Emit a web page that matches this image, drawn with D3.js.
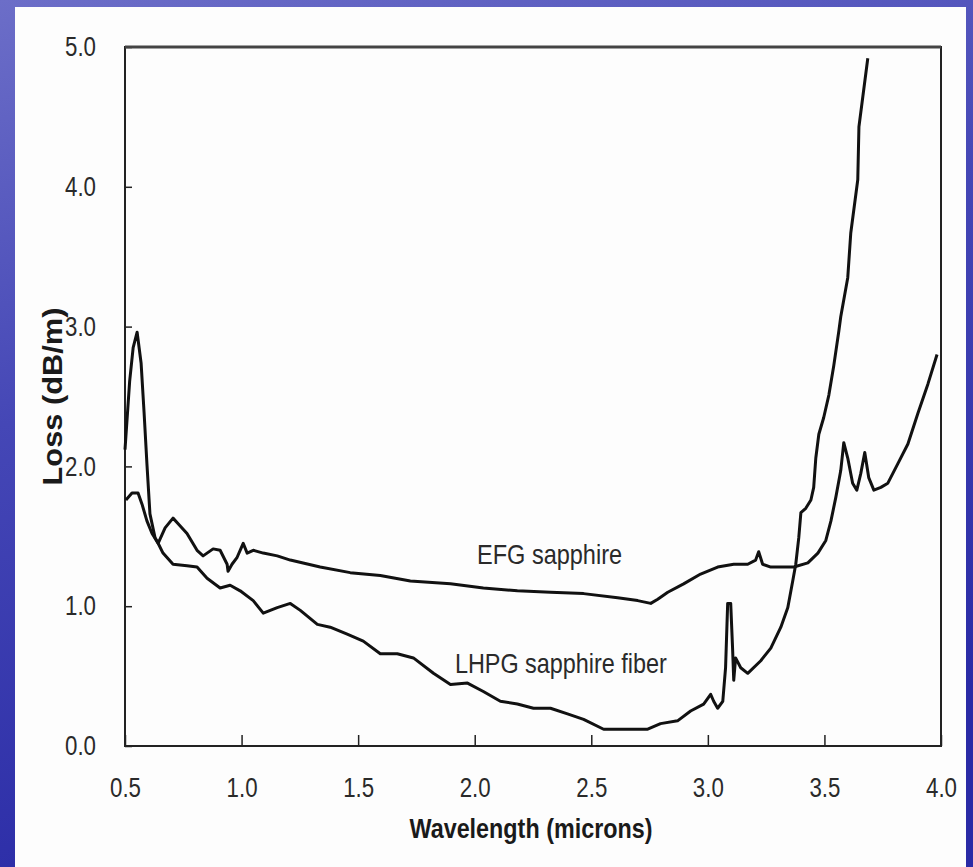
<!DOCTYPE html>
<html>
<head>
<meta charset="utf-8">
<script src="https://cdn.jsdelivr.net/npm/d3@7"></script>
<style>
  html, body { margin: 0; padding: 0; }
  body { width: 973px; height: 867px; overflow: hidden; }
</style>
</head>
<body>
<div id="chart"></div>
<script>
const width = 973;
const height = 867;
const margin = { top: 47, right: 32, bottom: 121, left: 125 };

// EFG sapphire (upper curve at mid wavelengths)
const efgWavelength = [0.50, 0.52, 0.535, 0.552, 0.569, 0.582, 0.594, 0.607, 0.629, 0.642, 0.672, 0.706, 0.728, 0.766, 0.809, 0.835, 0.878, 0.908, 0.938, 0.942, 0.959, 0.981, 1.007, 1.024, 1.05, 1.093, 1.153, 1.209, 1.337, 1.466, 1.595, 1.724, 1.896, 2.037, 2.183, 2.325, 2.467, 2.613, 2.699, 2.755, 2.785, 2.828, 2.896, 2.969, 3.042, 3.111, 3.171, 3.205, 3.218, 3.235, 3.27, 3.369, 3.429, 3.472, 3.506, 3.528, 3.549, 3.570, 3.583, 3.600, 3.621, 3.639, 3.656, 3.673, 3.690, 3.712, 3.742, 3.772, 3.815, 3.858, 3.901, 3.944, 3.983];
const efgLoss = [2.12, 2.61, 2.85, 2.96, 2.74, 2.38, 2.02, 1.66, 1.49, 1.45, 1.56, 1.63, 1.59, 1.52, 1.40, 1.36, 1.41, 1.40, 1.30, 1.25, 1.30, 1.35, 1.45, 1.38, 1.40, 1.38, 1.36, 1.33, 1.28, 1.24, 1.22, 1.18, 1.16, 1.13, 1.11, 1.10, 1.09, 1.06, 1.04, 1.02, 1.05, 1.10, 1.16, 1.23, 1.28, 1.30, 1.30, 1.33, 1.39, 1.30, 1.28, 1.28, 1.31, 1.38, 1.47, 1.61, 1.78, 1.97, 2.17, 2.06, 1.88, 1.83, 1.95, 2.10, 1.92, 1.83, 1.85, 1.88, 2.02, 2.16, 2.38, 2.59, 2.80];

// LHPG sapphire fiber
const lhpgWavelength = [0.504, 0.530, 0.556, 0.573, 0.594, 0.616, 0.642, 0.663, 0.706, 0.766, 0.809, 0.852, 0.908, 0.951, 0.994, 1.050, 1.093, 1.153, 1.209, 1.252, 1.325, 1.380, 1.453, 1.522, 1.595, 1.668, 1.737, 1.823, 1.896, 1.969, 2.037, 2.110, 2.183, 2.252, 2.325, 2.398, 2.467, 2.553, 2.742, 2.797, 2.870, 2.926, 2.982, 3.012, 3.025, 3.042, 3.064, 3.076, 3.085, 3.098, 3.106, 3.111, 3.119, 3.141, 3.171, 3.227, 3.270, 3.313, 3.343, 3.364, 3.377, 3.390, 3.399, 3.420, 3.442, 3.454, 3.463, 3.476, 3.497, 3.519, 3.540, 3.562, 3.570, 3.600, 3.613, 3.643, 3.648, 3.686];
const lhpgLoss = [1.76, 1.81, 1.81, 1.73, 1.61, 1.52, 1.45, 1.38, 1.30, 1.29, 1.28, 1.20, 1.13, 1.15, 1.11, 1.04, 0.95, 0.99, 1.02, 0.97, 0.87, 0.85, 0.80, 0.75, 0.66, 0.66, 0.63, 0.52, 0.44, 0.45, 0.39, 0.32, 0.30, 0.27, 0.27, 0.23, 0.19, 0.12, 0.12, 0.16, 0.18, 0.25, 0.30, 0.37, 0.32, 0.27, 0.32, 0.56, 1.02, 1.02, 0.70, 0.47, 0.63, 0.56, 0.52, 0.61, 0.70, 0.85, 0.99, 1.18, 1.30, 1.49, 1.67, 1.70, 1.76, 1.85, 2.06, 2.23, 2.35, 2.51, 2.72, 2.97, 3.07, 3.35, 3.67, 4.05, 4.43, 4.92];

const xTicks = [0.5, 1.0, 1.5, 2.0, 2.5, 3.0, 3.5, 4.0];
const yTicks = [0, 1, 2, 3, 4, 5];

// curve labels, anchored at their baseline start
const labels = [
    { text: "EFG sapphire", w: 2.01, v: 1.30, len: 145 },
    { text: "LHPG sapphire fiber", w: 1.915, v: 0.52, len: 212 }
];

const svg = d3.select("#chart").append("svg").attr("width", width).attr("height", height);

// blue slide background
const defs = svg.append("defs");
const grad = defs.append("linearGradient").attr("id", "bg").attr("x1", 0).attr("y1", 0).attr("x2", 0.3).attr("y2", 1);
grad.append("stop").attr("offset", "0%").attr("stop-color", "#6c6ec8");
grad.append("stop").attr("offset", "45%").attr("stop-color", "#4547b6");
grad.append("stop").attr("offset", "100%").attr("stop-color", "#2a2ba6");
svg.append("rect").attr("width", width).attr("height", height).attr("fill", "url(#bg)");

// white panel
svg.append("rect").attr("x", 15).attr("y", 7).attr("width", 951).attr("height", 860).attr("fill", "#fdfdfd");

const x = d3.scaleLinear().domain([0.5, 4.0]).range([margin.left, width - margin.right]);
const y = d3.scaleLinear().domain([0, 5]).range([height - margin.bottom, margin.top]);

const font = "'Liberation Sans', Arial, sans-serif";

const xAxis = d3.axisBottom(x).tickValues(xTicks).tickFormat(d3.format(".1f")).tickSizeInner(-11).tickSizeOuter(0).tickPadding(32);
const yAxis = d3.axisLeft(y).tickValues(yTicks).tickFormat(d3.format(".1f")).tickSizeInner(-7).tickSizeOuter(0).tickPadding(29);

const gx = svg.append("g").attr("transform", `translate(0,${height - margin.bottom})`).call(xAxis);
const gy = svg.append("g").attr("transform", `translate(${margin.left},0)`).call(yAxis);

[gx, gy].forEach((g) => {
    g.select(".domain").remove();
    g.selectAll(".tick line").attr("stroke", "#222").attr("stroke-width", 1.5);
    g.selectAll(".tick text")
        .attr("font-family", font)
        .attr("font-size", 27)
        .attr("fill", "#2a2a2a")
        .attr("textLength", 31)
        .attr("lengthAdjust", "spacingAndGlyphs");
});

// frame
svg.append("rect")
    .attr("x", x(0.5)).attr("y", y(5))
    .attr("width", x(4.0) - x(0.5)).attr("height", y(0) - y(5))
    .attr("fill", "none").attr("stroke", "#222").attr("stroke-width", 2);
svg.append("line")
    .attr("x1", x(0.5)).attr("x2", x(4.0)).attr("y1", y(5)).attr("y2", y(5))
    .attr("stroke", "#444").attr("stroke-width", 3);

const line = d3.line().x((d) => x(d[0])).y((d) => y(d[1]));

const efg = d3.zip(efgWavelength, efgLoss);
const lhpg = d3.zip(lhpgWavelength, lhpgLoss);

svg.append("g").selectAll("path").data([efg, lhpg]).enter()
    .append("path")
    .attr("d", line)
    .attr("fill", "none")
    .attr("stroke", "#111")
    .attr("stroke-width", 3)
    .attr("stroke-linejoin", "round");

svg.append("g").selectAll("text").data(labels).enter()
    .append("text")
    .attr("x", (d) => x(d.w))
    .attr("y", (d) => y(d.v))
    .attr("font-family", font)
    .attr("font-size", 28)
    .attr("fill", "#2a2a2a")
    .attr("textLength", (d) => d.len)
    .attr("lengthAdjust", "spacingAndGlyphs")
    .text((d) => d.text);

// axis titles
svg.append("text")
    .attr("x", (x(0.5) + x(4.0)) / 2 - 2)
    .attr("y", 838)
    .attr("text-anchor", "middle")
    .attr("font-family", font)
    .attr("font-weight", "bold")
    .attr("font-size", 27)
    .attr("fill", "#1a1a1a")
    .attr("textLength", 243)
    .attr("lengthAdjust", "spacingAndGlyphs")
    .text("Wavelength (microns)");

svg.append("text")
    .attr("transform", `translate(62,${(y(0) + y(5)) / 2}) rotate(-90)`)
    .attr("text-anchor", "middle")
    .attr("font-family", font)
    .attr("font-weight", "bold")
    .attr("font-size", 27)
    .attr("fill", "#1a1a1a")
    .attr("textLength", 178)
    .attr("lengthAdjust", "spacingAndGlyphs")
    .text("Loss (dB/m)");
</script>
</body>
</html>
